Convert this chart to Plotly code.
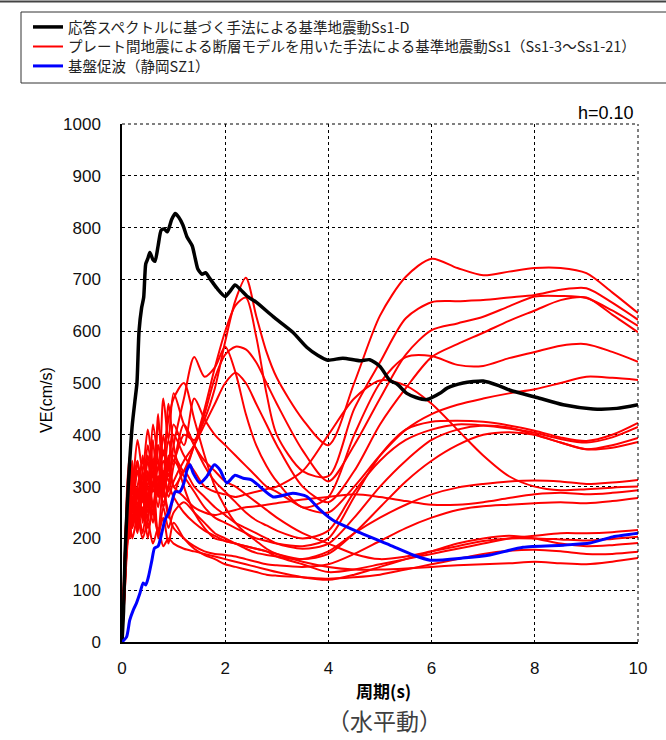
import plotly.graph_objects as go

# ---------------- data ----------------
black_T = [0, 0.03, 0.06, 0.1, 0.15, 0.2, 0.25, 0.29, 0.33, 0.38, 0.42, 0.46, 0.5, 0.54, 0.6, 0.64,
           0.7, 0.76, 0.82, 0.88, 0.96, 1.03, 1.1, 1.18, 1.26, 1.36, 1.42, 1.47, 1.55, 1.62, 1.7,
           1.84, 2.0, 2.1, 2.19, 2.3, 2.42, 2.6, 2.93, 3.31, 3.58, 3.8, 3.99, 4.28, 4.61, 4.8, 5.0,
           5.19, 5.33, 5.52, 5.7, 5.91, 6.16, 6.3, 6.61, 7.0, 7.3, 7.52, 8.04, 8.55, 9.13, 9.59, 10.0]
black_V = [0, 60, 170, 260, 350, 420, 465, 500, 600, 645, 665, 730, 740, 752, 738, 735,
           765, 795, 797, 792, 815, 827, 820, 805, 782, 765, 740, 720, 710, 713, 702,
           683, 667, 678, 689, 680, 668, 656, 628, 598, 569, 553, 544, 548, 543, 545, 532,
           505, 498, 480, 472, 468, 480, 490, 500, 504, 495, 486, 472, 458, 450, 451, 458]

blue_T = [0, 0.09, 0.15, 0.22, 0.28, 0.35, 0.41, 0.46, 0.51, 0.58, 0.63, 0.7, 0.77, 0.83, 0.9,
          0.96, 1.03, 1.12, 1.2, 1.26, 1.32, 1.38, 1.51, 1.64, 1.79, 1.9, 2.03, 2.19, 2.35, 2.51,
          2.67, 2.93, 3.31, 3.58, 3.84, 4.09, 4.61, 5.19, 5.64, 5.97, 6.6, 7.13, 7.77, 8.55, 9.07,
          9.51, 10.0]
blue_V = [0, 10, 42, 62, 75, 95, 114, 110, 125, 158, 181, 185, 210, 235, 249,
          268, 290, 290, 307, 332, 342, 326, 307, 319, 342, 332, 307, 322, 316, 313,
          300, 280, 287, 281, 255, 235, 211, 187, 168, 158, 162, 168, 183, 187, 191,
          203, 210]

red_T = [0, 0.05, 0.1, 0.15, 0.2, 0.3, 0.4, 0.5, 0.6, 0.7, 0.8, 0.9, 1.0, 1.2, 1.4, 1.6, 1.8,
         2.0, 2.2, 2.4, 2.6, 2.8, 3.0, 3.5, 4.0, 4.5, 5.0, 5.5, 6.0, 6.5, 7.0, 7.5, 8.0, 8.5,
         9.0, 9.5, 10.0]

ss1_03 = [5, 120, 230, 290, 250, 330, 280, 360, 300, 380, 320, 390, 350, 400, 390, 430, 490,
          580, 660, 703, 630, 560, 510, 430, 380, 500, 630, 705, 740, 722, 708, 715, 722, 722,
          712, 675, 635]
ss1_04 = [5, 150, 260, 230, 300, 250, 330, 270, 350, 290, 370, 320, 360, 330, 380, 450, 530,
          600, 650, 665, 590, 480, 400, 330, 320, 450, 540, 625, 656, 658, 660, 665, 670, 680,
          683, 655, 622]
ss1_05 = [5, 100, 210, 280, 230, 300, 240, 320, 260, 340, 280, 360, 300, 330, 380, 440, 510,
          555, 570, 565, 540, 500, 460, 370, 310, 380, 470, 555, 602, 615, 628, 648, 667, 668,
          664, 640, 610]
ss1_06 = [5, 130, 240, 200, 270, 220, 290, 240, 310, 260, 330, 280, 310, 350, 380, 420, 460,
          500, 520, 500, 460, 420, 380, 300, 270, 330, 420, 490, 550, 575, 597, 620, 640, 660,
          665, 632, 598]
ss1_07 = [5, 90, 200, 260, 220, 290, 250, 330, 270, 300, 350, 310, 380, 470, 550, 512, 530,
          570, 520, 440, 380, 340, 310, 260, 280, 400, 500, 550, 552, 535, 533, 548, 560, 572,
          575, 560, 541]
ss1_08 = [5, 110, 190, 250, 300, 240, 320, 260, 350, 280, 400, 330, 420, 380, 470, 430, 400,
          380, 360, 340, 320, 300, 290, 260, 250, 300, 360, 410, 440, 458, 470, 480, 488, 500,
          512, 510, 506]
ss1_09 = [5, 140, 280, 330, 260, 350, 230, 300, 250, 320, 270, 300, 350, 320, 290, 260, 240,
          230, 220, 210, 200, 195, 190, 185, 200, 280, 360, 410, 425, 427, 425, 418, 408, 395,
          388, 400, 423]
ss1_10 = [5, 160, 250, 200, 260, 210, 300, 230, 390, 280, 330, 290, 340, 420, 380, 340, 310,
          290, 270, 250, 235, 225, 215, 200, 215, 290, 350, 390, 410, 420, 418, 412, 404, 392,
          385, 395, 415]
ss1_11 = [5, 100, 230, 270, 350, 220, 280, 200, 270, 210, 300, 240, 280, 330, 300, 280, 260,
          245, 230, 220, 210, 200, 190, 180, 190, 240, 300, 350, 390, 410, 418, 414, 400, 385,
          372, 380, 394]
ss1_12 = [5, 120, 220, 300, 240, 280, 320, 260, 300, 350, 290, 340, 400, 360, 330, 300, 290,
          285, 280, 285, 290, 295, 300, 330, 400, 470, 505, 495, 460, 410, 360, 320, 300, 293,
          295, 298, 300]
ss1_13 = [5, 130, 200, 240, 290, 330, 270, 350, 290, 320, 260, 300, 280, 250, 230, 215, 205,
          195, 190, 185, 180, 175, 170, 160, 170, 210, 260, 310, 350, 380, 400, 405, 400, 385,
          372, 375, 386]
ss1_14 = [5, 110, 190, 230, 280, 220, 310, 250, 330, 200, 260, 220, 250, 270, 250, 230, 210,
          200, 190, 180, 172, 168, 165, 160, 175, 210, 240, 265, 285, 298, 305, 310, 312, 310,
          305, 308, 313]
ss1_15 = [5, 140, 300, 360, 300, 390, 330, 410, 350, 380, 300, 340, 300, 280, 260, 250, 245,
          250, 255, 260, 262, 265, 268, 275, 280, 285, 280, 272, 265, 265, 270, 278, 285, 288,
          285, 288, 293]
ss1_16 = [5, 120, 250, 320, 270, 300, 350, 300, 420, 350, 300, 250, 220, 200, 185, 175, 170,
          168, 165, 160, 155, 150, 148, 145, 150, 170, 195, 220, 240, 255, 262, 265, 268, 270,
          268, 272, 278]
ss1_17 = [5, 100, 210, 260, 220, 260, 210, 280, 230, 440, 300, 460, 380, 300, 250, 220, 200,
          195, 190, 185, 180, 175, 165, 150, 135, 140, 150, 160, 170, 180, 190, 200, 205, 210,
          210, 212, 216]
ss1_18 = [5, 120, 240, 270, 330, 260, 360, 280, 340, 300, 470, 390, 480, 420, 380, 350, 330,
          310, 300, 285, 270, 255, 240, 210, 190, 170, 160, 165, 175, 185, 195, 200, 200, 198,
          196, 199, 203]
ss1_19 = [5, 90, 180, 230, 200, 240, 200, 230, 190, 220, 185, 200, 190, 180, 175, 170, 165,
          160, 155, 150, 145, 140, 135, 125, 120, 130, 145, 160, 175, 190, 200, 205, 200, 190,
          185, 187, 191]
ss1_20 = [5, 150, 270, 240, 280, 230, 260, 220, 250, 210, 240, 190, 230, 200, 180, 168, 160,
          150, 145, 140, 135, 130, 128, 125, 122, 125, 130, 140, 150, 160, 170, 176, 178, 175,
          170, 170, 174]
ss1_21 = [5, 110, 210, 250, 300, 350, 290, 380, 320, 420, 360, 430, 470, 500, 430, 360, 300,
          260, 230, 210, 195, 180, 170, 155, 145, 140, 140, 142, 145, 148, 150, 152, 155, 152,
          150, 155, 162]

red_series = [ss1_03, ss1_04, ss1_05, ss1_06, ss1_07, ss1_08, ss1_09, ss1_10, ss1_11, ss1_12,
              ss1_13, ss1_14, ss1_15, ss1_16, ss1_17, ss1_18, ss1_19, ss1_20, ss1_21]

x_ticks = [0, 2, 4, 6, 8, 10]
y_ticks = [0, 100, 200, 300, 400, 500, 600, 700, 800, 900, 1000]

name_black = "応答スペクトルに基づく手法による基準地震動Ss1-D"
name_red = "プレート間地震による断層モデルを用いた手法による基準地震動Ss1（Ss1-3～Ss1-21）"
name_blue = "基盤促波（静岡SZ1）"

# ---------------- figure ----------------
W, H = 666, 740
L, R, T, B = 122, 28, 124, 98
pw, ph = W - L - R, H - T - B


def px_x(p):
    return (p - L) / pw


def px_y(p):
    return (H - B - p) / ph


fig = go.Figure()

for i, v in enumerate(red_series):
    fig.add_trace(go.Scatter(
        x=red_T, y=v, mode="lines", name=name_red, legend="legend2",
        line=dict(color="#ff0000", width=2, shape="spline", smoothing=0.8),
        showlegend=(i == 0), legendgroup="red", hoverinfo="skip"))

fig.add_trace(go.Scatter(
    x=black_T, y=black_V, mode="lines", name=name_black, legend="legend",
    line=dict(color="#000000", width=3.5, shape="spline", smoothing=0.6)))

fig.add_trace(go.Scatter(
    x=blue_T, y=blue_V, mode="lines", name=name_blue, legend="legend3",
    line=dict(color="#0000ff", width=3, shape="spline", smoothing=0.6)))

tick_font = dict(family="Liberation Sans, Arial, sans-serif", size=17, color="#111111")

fig.update_xaxes(range=[0, 10], tickvals=x_ticks, ticktext=[str(t) for t in x_ticks],
                 showgrid=True, gridcolor="#000000", griddash="dot", gridwidth=1,
                 showline=True, linecolor="#000000", linewidth=1.5, mirror=False,
                 zeroline=False, ticks="", ticklabelstandoff=10, tickfont=tick_font,
                 automargin=False)
fig.update_yaxes(range=[0, 1000], tickvals=y_ticks, ticktext=[str(t) for t in y_ticks],
                 showgrid=True, gridcolor="#000000", griddash="dot", gridwidth=1,
                 showline=True, linecolor="#000000", linewidth=1.5, mirror=False,
                 zeroline=False, ticks="", ticklabelstandoff=16, tickfont=tick_font,
                 automargin=False)

shapes = [
    dict(type="line", xref="paper", yref="paper", x0=0, x1=1, y0=1, y1=1,
         line=dict(color="#000000", width=1, dash="dot")),
    dict(type="line", xref="paper", yref="paper", x0=1, x1=1, y0=0, y1=1,
         line=dict(color="#000000", width=1, dash="dot")),
    dict(type="line", xref="paper", yref="paper", x0=px_x(-5), x1=px_x(W + 5),
         y0=px_y(1.5), y1=px_y(1.5), line=dict(color="#444444", width=2)),
    dict(type="rect", xref="paper", yref="paper", x0=px_x(21), x1=px_x(W + 10),
         y0=px_y(83), y1=px_y(12), line=dict(color="#333333", width=1)),
]

annotations = [
    dict(text="h=0.10", xref="paper", yref="paper", x=px_x(636), y=px_y(113),
         xanchor="right", yanchor="middle", showarrow=False,
         font=dict(family="Liberation Sans, Arial, sans-serif", size=18, color="#000000")),
    dict(text="周期(s)", xref="paper", yref="paper", x=px_x(383), y=px_y(690),
         xanchor="center", yanchor="middle", showarrow=False,
         font=dict(family="Noto Sans CJK JP", size=17, color="#000000", weight="bold")),
    dict(text="（水平動）", xref="paper", yref="paper", x=px_x(384), y=px_y(720),
         xanchor="center", yanchor="middle", showarrow=False,
         font=dict(family="Noto Sans CJK JP", size=23, color="#404040")),
    dict(text="VE(cm/s)", xref="paper", yref="paper", x=px_x(46), y=px_y(400),
         xanchor="center", yanchor="middle", showarrow=False, textangle=-90,
         font=dict(family="Liberation Sans, Arial, sans-serif", size=16, color="#000000")),
]

leg_font = dict(family="Noto Sans CJK JP", size=14.5, color="#222222")


def leg(ypx):
    return dict(x=px_x(28), y=px_y(ypx), xanchor="left", yanchor="middle",
                bgcolor="rgba(0,0,0,0)", borderwidth=0, font=leg_font,
                tracegroupgap=0, itemclick=False, itemdoubleclick=False)


fig.update_layout(
    width=W, height=H,
    margin=dict(l=L, r=R, t=T, b=B, pad=0, autoexpand=False),
    paper_bgcolor="#ffffff", plot_bgcolor="#ffffff",
    shapes=shapes, annotations=annotations,
    showlegend=True,
    legend=leg(27), legend2=leg(46.5), legend3=leg(66),
    hovermode=False,
)

fig.write_html("out.html", config={"displayModeBar": False},
               post_script="document.body.style.margin='0';document.body.style.padding='0';")
